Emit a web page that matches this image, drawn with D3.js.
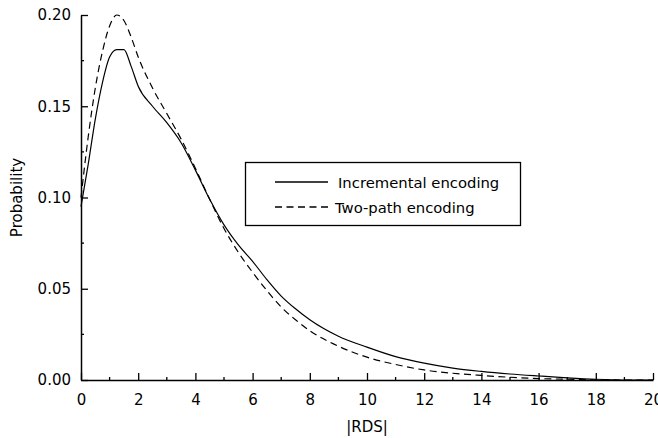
<!DOCTYPE html>
<html>
<head>
<meta charset="utf-8">
<script src="https://cdn.jsdelivr.net/npm/d3@7"></script>
<style>
  html, body { margin: 0; padding: 0; background: #fff; }
  svg { display: block; }
  text { font-family: "DejaVu Sans", Verdana, sans-serif; fill: #000; }
</style>
</head>
<body>
<svg id="chart" width="658" height="438"></svg>
<script>
// |RDS| sample positions
const rds = [0, 0.25, 0.5, 0.75, 1, 1.25, 1.5, 1.75, 2, 2.5, 3, 3.5, 4, 4.5, 5, 5.5, 6, 6.5, 7, 7.5, 8, 9, 10, 11, 12, 13, 14, 15, 16, 17, 18, 19, 20];

// Probability of each |RDS| value, incremental encoding
const incremental = [0.095, 0.118, 0.143, 0.163, 0.177, 0.181, 0.181, 0.172, 0.161, 0.150, 0.141, 0.130, 0.115, 0.099, 0.085, 0.074, 0.065, 0.055, 0.046, 0.039, 0.033, 0.024, 0.018, 0.0128, 0.0092, 0.0065, 0.0047, 0.0033, 0.0022, 0.0012, 0.0004, 0.0, 0.0];

// Probability of each |RDS| value, two-path encoding
const twoPath = [0.100, 0.133, 0.160, 0.180, 0.194, 0.200, 0.197, 0.188, 0.177, 0.160, 0.146, 0.132, 0.116, 0.099, 0.083, 0.070, 0.059, 0.049, 0.040, 0.033, 0.027, 0.0185, 0.0125, 0.0085, 0.0055, 0.0037, 0.0025, 0.0015, 0.0008, 0.0004, 0.0001, 0.0, 0.0];

const xTicks = [0, 2, 4, 6, 8, 10, 12, 14, 16, 18, 20];
const yTicks = [0.00, 0.05, 0.10, 0.15, 0.20];
const seriesNames = ["Incremental encoding", "Two-path encoding"];

const svg = d3.select("#chart");
const m = { left: 81, top: 15 };

const x = d3.scaleLinear().domain([0, 20]).range([m.left, 653]);
const y = d3.scaleLinear().domain([0, 0.20]).range([380, m.top]);

// Axes: ticks point inward, minor ticks halfway between majors
const xAxis = d3.axisBottom(x).tickValues(xTicks).tickSizeInner(-7).tickSizeOuter(0)
  .tickPadding(14).tickFormat(d3.format("d"));
const gx = svg.append("g").attr("transform", `translate(0,${y(0)})`).call(xAxis);
gx.select(".domain").attr("stroke", "#000").attr("stroke-width", 1.5);
gx.selectAll(".tick line").attr("stroke", "#000").attr("stroke-width", 1.3);
gx.selectAll(".tick text").attr("font-size", "15px").attr("font-family", "DejaVu Sans, sans-serif").attr("fill", "#000");
gx.selectAll(".minor").data(d3.range(1, 20, 2)).enter().append("line")
  .attr("x1", d => x(d)).attr("x2", d => x(d)).attr("y1", 0).attr("y2", -3)
  .attr("stroke", "#000").attr("stroke-width", 1.3);

const yAxis = d3.axisLeft(y).tickValues(yTicks).tickSizeInner(-7).tickSizeOuter(0)
  .tickPadding(10).tickFormat(d3.format(".2f"));
const gy = svg.append("g").attr("transform", `translate(${x(0)},0)`).call(yAxis);
gy.select(".domain").attr("stroke", "#000").attr("stroke-width", 1.5);
gy.selectAll(".tick line").attr("stroke", "#000").attr("stroke-width", 1.3);
gy.selectAll(".tick text").attr("font-size", "15px").attr("font-family", "DejaVu Sans, sans-serif").attr("fill", "#000");
gy.selectAll(".minor").data([0.025, 0.075, 0.125, 0.175]).enter().append("line")
  .attr("x1", 0).attr("x2", 3).attr("y1", d => y(d)).attr("y2", d => y(d))
  .attr("stroke", "#000").attr("stroke-width", 1.3);

// Axis titles
svg.append("text").attr("x", (x(0) + x(20)) / 2).attr("y", 432)
  .attr("text-anchor", "middle").attr("font-size", "15px").text("|RDS|");
svg.append("text").attr("transform", `translate(22,${(y(0) + y(0.2)) / 2}) rotate(-90)`)
  .attr("text-anchor", "middle").attr("font-size", "15px").text("Probability");

// Curves
const line = d3.line().x(d => x(d[0])).y(d => y(d[1])).curve(d3.curveMonotoneX);
const styles = [{ dash: null }, { dash: "7,4.5" }];
[incremental, twoPath].forEach((vals, i) => {
  svg.append("path")
    .datum(rds.map((r, j) => [r, vals[j]]))
    .attr("d", line)
    .attr("fill", "none")
    .attr("stroke", "#000")
    .attr("stroke-width", 1.2)
    .attr("stroke-dasharray", styles[i].dash);
});

// Legend
const lg = svg.append("g");
lg.append("rect").attr("x", 245.5).attr("y", 162.5).attr("width", 275).attr("height", 63)
  .attr("fill", "#fff").attr("stroke", "#000").attr("stroke-width", 1.3);
seriesNames.forEach((name, i) => {
  const yy = 182 + i * 25;
  lg.append("line").attr("x1", 275).attr("x2", i === 0 ? 328 : 332)
    .attr("y1", yy).attr("y2", yy)
    .attr("stroke", "#000").attr("stroke-width", 1.3)
    .attr("stroke-dasharray", styles[i].dash);
  lg.append("text").attr("x", i === 0 ? 338 : 335).attr("y", yy + 5.5)
    .attr("font-size", "14.8px").text(name);
});
</script>
</body>
</html>
